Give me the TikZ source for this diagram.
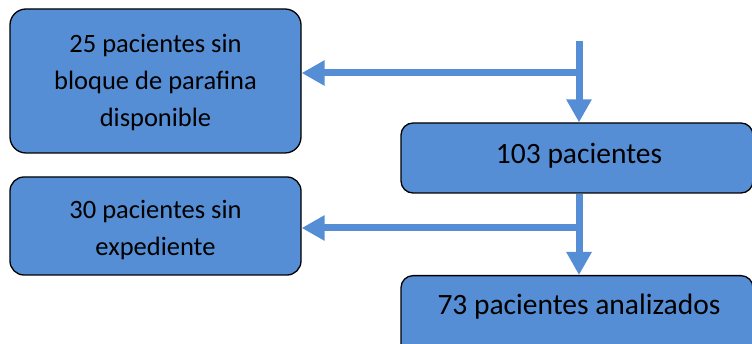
\documentclass[tikz,border=0pt]{standalone}
\usepackage{fontspec}
\setmainfont{Carlito}
\usetikzlibrary{arrows.meta}
\definecolor{boxblue}{HTML}{558ED5}
\tikzset{
  box/.style={draw=black, line width=1.3pt, fill=boxblue, inner sep=0pt},
  small/.style={align=center, font=\fontsize{26.5}{37}\selectfont, text=black},
  big/.style={font=\fontsize{29.5}{37}\selectfont, text=black},
  flow/.style={draw=boxblue, line width=7pt, -{Triangle[length=23pt,width=24pt]}},
}
\begin{document}
\begin{tikzpicture}[x=1pt,y=-1pt]
\useasboundingbox (0,0) rectangle (752,344);
\begin{scope}
\clip (0,0) rectangle (752,344);
\node[box, rounded corners=16pt, minimum width=291pt, minimum height=144pt] (A) at (155.5,81) {};
\node[small] (At) at (155.5,83) {25 pacientes sin\\bloque de parafina\\disponible};
\node[box, rounded corners=12pt, minimum width=352pt, minimum height=70pt] (B) at (577,158) {};
\node[big] (Bt) at (579,156) {103 pacientes};
\node[box, rounded corners=14pt, minimum width=291pt, minimum height=98pt] (C) at (155.5,226) {};
\node[small] (Ct) at (155.5,230) {30 pacientes sin\\expediente};
\node[box, rounded corners=12pt, minimum width=352pt, minimum height=90pt, anchor=north] (D) at (577,275) {};
\node[big] (Dt) at (579,307) {73 pacientes analizados};
\end{scope}
\coordinate (top) at (579,41);
\coordinate (j1) at (579,73);
\coordinate (j2) at (579,228);
\draw[flow] (top) -- (top |- B.north);
\draw[flow] (j1) -- (A.east |- j1);
\draw[flow] (j2 |- B.south) -- (j2 |- D.north);
\draw[flow] (j2) -- (C.east |- j2);
\end{tikzpicture}
\end{document}
